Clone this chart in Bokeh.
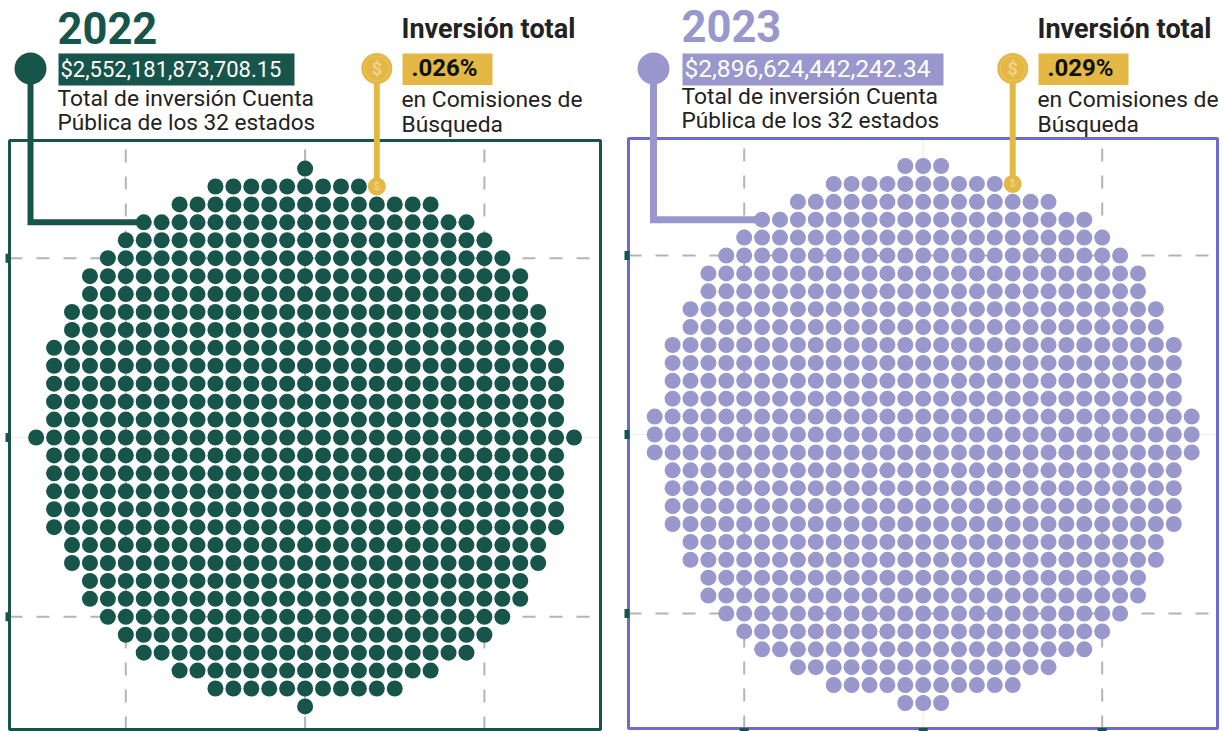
from bokeh.embed import file_html
from bokeh.resources import INLINE
from bokeh.plotting import figure
from bokeh.layouts import row
from bokeh.models import Range1d
from bokeh.core.properties import value

# Grid rows -15..15 (top to bottom); columns of the first and last dot in each row
ROW_IDS = list(range(-15, 16))
left_2022 = [0,-5,-7,-9,-10,-11,-12,-12,-13,-13,-14,-14,-14,-14,-14,-15,-14,-14,-14,-14,-14,-13,-13,-12,-12,-11,-10,-9,-7,-5,0]
right_2022 = [0,4,7,9,10,11,12,12,13,13,14,14,14,14,14,15,14,14,14,14,14,13,13,12,12,11,10,9,7,5,0]
left_2023 = [-1,-5,-7,-9,-10,-11,-12,-12,-13,-13,-14,-14,-14,-14,-15,-15,-15,-14,-14,-14,-14,-13,-13,-12,-12,-11,-10,-9,-7,-5,-1]
right_2023 = [1,5,7,9,10,11,12,12,13,13,14,14,14,14,15,15,15,14,14,14,14,13,13,12,12,11,10,9,7,5,1]
grid_ticks = [-10, 0, 10]

YEARS = ["2022", "2023"]
AMOUNTS = ["$2,552,181,873,708.15", "$2,896,624,442,242.34"]
SHARES = [".026%", ".029%"]
TOTAL_LINES = ["Total de inversión Cuenta", "Pública de los 32 estados"]
COMM_LINES = ["en Comisiones de", "Búsqueda"]
HEAD = "Inversión total"

GREEN, LAV, GOLD = "#17544A", "#9997CC", "#E3B844"
FONT = "Roboto"
H = 731
TOP = 0
BASE_FIX = 0.36


def panel(page_l, page_r, cfg):
    cx, cy, pitch = cfg["cx"], cfg["cy"], cfg["pitch"]
    X = lambda px: (px - cx) / pitch
    Y = lambda py: (cy - py) / pitch
    p = figure(width=page_r - page_l, height=H, output_backend="svg", toolbar_location=None,
               x_range=Range1d(X(page_l), X(page_r)),
               y_range=Range1d(Y(TOP + H), Y(TOP)),
               x_axis_type=None, y_axis_type=None, min_border=0,
               outline_line_color=None, background_fill_color="white")
    p.grid.visible = False

    # gridlines
    t, b = Y(cfg["frame"][1]), Y(cfg["frame"][3])
    l, r = X(cfg["frame"][0]), X(cfg["frame"][2])
    for v in grid_ticks:
        faint = v == 0 and cfg["faint_center"]
        p.segment([v], [b], [v], [t], line_color="#E8E8E8" if faint else "#B4B4B4",
                  line_width=1 if faint else 2, line_dash="solid" if faint else "13 14")
        faint_h = v == 0
        p.segment([l], [v], [r], [v], line_color="#EDEDED" if faint_h else "#B4B4B4",
                  line_width=1 if faint_h else 2, line_dash="solid" if faint_h else "13 14")
    # frame
    p.quad(left=[l], right=[r], top=[t], bottom=[b], fill_color=None,
           line_color=cfg["frame_color"], line_width=cfg["frame_w"])
    # small tick stubs
    p.rect([l - 1.5 / pitch] * 3, grid_ticks, width=5, height=9, width_units="screen",
           height_units="screen", fill_color=GREEN, line_color=None)
    if cfg["bottom_ticks"]:
        p.rect(grid_ticks, [b - 2 / pitch] * 3, width=9, height=5, width_units="screen",
               height_units="screen", fill_color=GREEN, line_color=None)

    # dots
    xs, ys = [], []
    for k, a, z in zip(ROW_IDS, cfg["left"], cfg["right"]):
        for c in range(a, z + 1):
            if (k, c) == cfg["gold_dot"]:
                continue
            xs.append(c); ys.append(-k)
    p.scatter(xs, ys, marker="circle", size=16, fill_color=cfg["color"], line_color=None)

    # leader from the big marker to the first dot of its row
    lx, ly = cfg["lead"]
    lk, lc = cfg["lead_dot"]
    p.line([X(lx), X(lx), lc], [Y(ly), -lk, -lk],
           line_color=cfg["color"], line_width=cfg["lead_w"], line_join="miter")
    p.scatter([X(lx)], [Y(ly)], marker="circle", size=32, fill_color=cfg["color"], line_color=None)

    # coin line and coins
    gk, gc = cfg["gold_dot"]
    p.line([gc, gc], [Y(68), -gk], line_color=GOLD, line_width=6)
    p.scatter([gc], [Y(68)], marker="circle", size=31, fill_color=GOLD, line_color=None)
    p.scatter([gc], [Y(68)], marker="circle", size=25, fill_color=None, line_color="#E9C767", line_width=1)
    p.scatter([gc], [-gk], marker="circle", size=18, fill_color=GOLD, line_color=None)
    p.text([gc], [Y(68)], text=["$"], text_font=value(FONT), text_font_style="bold", text_font_size="18px",
           text_color="#EFD48A", text_align="center", text_baseline="middle")
    p.text([gc], [-gk], text=["$"], text_font=value(FONT), text_font_style="bold", text_font_size="10px",
           text_color="#EFD48A", text_align="center", text_baseline="middle")

    def txt(px, py, s, size, color="#222222", style="normal"):
        p.text([X(px)], [Y(py - BASE_FIX * size)], text=[s], text_font=value(FONT), text_font_style=style,
               text_font_size=f"{size}px", text_color=color, text_align="left",
               text_baseline="alphabetic")

    def box(x0, y0, x1, y1, color):
        p.quad(left=[X(x0)], right=[X(x1)], top=[Y(y0)], bottom=[Y(y1)], fill_color=color, line_color=None)

    txt(cfg["tx"] - 1, cfg["title_y"], cfg["year"], 43.5, cfg["color"], "bold")
    box(cfg["tx"], 53, cfg["amt_r"], 85, cfg["color"])
    txt(cfg["tx"] + 2, 77, cfg["amount"], cfg["amt_size"], "#FFFFFF", "normal")
    txt(cfg["tx"] - 1 - cfg["nudge"], cfg["t1"], TOTAL_LINES[0], 22.8)
    txt(cfg["tx"] - 1 - cfg["nudge"], cfg["t1"] + 24, TOTAL_LINES[1], 22.6)

    gx = cfg["gx"]
    txt(gx - 1, 38, HEAD, 27, "#222222", "bold")
    box(gx, 53, gx + 90, 84.5, GOLD)
    txt(gx + 9, 76, cfg["share"], 24, "#111111", "bold")
    txt(gx - 1, 107, COMM_LINES[0], 22.8)
    txt(gx - 1, 132, COMM_LINES[1], 22.8)
    return p


p1 = panel(0, 614, dict(cx=304.6, cy=437, pitch=17.93, frame=(9, 140, 600, 729), frame_color=GREEN, frame_w=3,
                        faint_center=False, bottom_ticks=False, left=left_2022, right=right_2022,
                        gold_dot=(-14, 4), color=GREEN, lead=(30, 68), lead_dot=(-12, -9), lead_w=6,
                        tx=58, title_y=43, year=YEARS[0], amount=AMOUNTS[0], amt_r=294, amt_size=22,
                        nudge=0, t1=106, gx=402, share=SHARES[0]))
p2 = panel(614, 1227, dict(cx=922.7, cy=434, pitch=17.9, frame=(628, 138, 1217, 728), frame_color="#6C6CCE", frame_w=3,
                           faint_center=True, bottom_ticks=True, left=left_2023, right=right_2023,
                           gold_dot=(-14, 5), color=LAV, lead=(653, 68), lead_dot=(-12, -9), lead_w=7,
                           tx=682, title_y=41, year=YEARS[1], amount=AMOUNTS[1], amt_r=943, amt_size=24.5,
                           nudge=0, t1=104, gx=1038, share=SHARES[1]))

layout = row(p1, p2, spacing=0)
open("out.html", "w").write(file_html(layout, INLINE))
